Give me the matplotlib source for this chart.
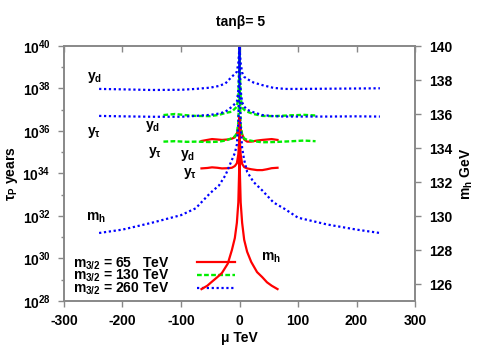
import matplotlib
matplotlib.use("Agg")
import matplotlib.pyplot as plt
import numpy as np

plt.rcParams["font.family"] = ["Liberation Sans", "DejaVu Sans"]
plt.rcParams["font.weight"] = "bold"
plt.rcParams["axes.labelweight"] = "bold"
plt.rcParams["mathtext.fontset"] = "custom"
plt.rcParams["mathtext.rm"] = "Liberation Sans:bold"
plt.rcParams["mathtext.it"] = "Liberation Sans:bold"
plt.rcParams["mathtext.bf"] = "Liberation Sans:bold"
plt.rcParams["mathtext.default"] = "rm"

# ---- data (mu in TeV, log10 tau_P in years, m_h in GeV)
mu_blue = [-240, -200, -150, -100, -75, -50, -35, -24, -13, -8, -4.5, -2, -0.7, 0,
           0.7, 2, 4.5, 8, 13, 24, 39, 58, 78, 100, 150, 200, 240]
blue_yd = [37.98, 37.96, 37.93, 37.94, 37.98, 38.04, 38.12, 38.24, 38.56, 38.68, 38.79, 39.2, 39.7, 40.0,
           39.7, 39.2, 38.75, 38.55, 38.45, 38.28, 38.16, 38.03, 37.98, 37.98, 37.99, 38.0, 38.01]
blue_ytau = [36.71, 36.69, 36.67, 36.67, 36.71, 36.76, 36.82, 36.91, 37.14, 37.28, 37.38, 37.9, 38.8, 40.0,
             38.8, 37.9, 37.35, 37.15, 37.0, 36.88, 36.75, 36.7, 36.68, 36.68, 36.68, 36.69, 36.68]
blue_mh = [129.0, 129.2, 129.6, 130.05, 130.45, 131.35, 131.8, 132.4, 133.3, 133.7, 134.2, 135.5, 137.5, 140.0,
           137.5, 135.3, 134.0, 133.3, 132.6, 132.0, 131.5, 130.8, 130.4, 129.9, 129.5, 129.2, 129.0]

mu_green = [-130, -110, -90, -75, -50, -35, -24, -13, -8, -4.5, -2, -0.7, 0,
            0.7, 2, 4.5, 8, 13, 24, 39, 58, 75, 90, 110, 130]
green_yd = [36.75, 36.8, 36.74, 36.71, 36.7, 36.76, 36.85, 36.91, 37.05, 37.14, 37.6, 38.6, 40.0,
            38.6, 37.6, 37.1, 37.0, 36.91, 36.8, 36.71, 36.7, 36.72, 36.74, 36.76, 36.73]
green_ytau = [35.5, 35.52, 35.49, 35.5, 35.48, 35.5, 35.55, 35.66, 35.75, 35.89, 36.4, 37.5, 40.0,
              37.5, 36.3, 35.8, 35.65, 35.58, 35.52, 35.47, 35.48, 35.5, 35.52, 35.55, 35.52]

mu_red = [-65, -55, -47, -38, -30, -20, -13, -8, -4.5, -2, -0.7, 0,
          0.7, 2, 4.5, 8, 13, 20, 30, 39, 47, 55, 65]
red_yd = [35.53, 35.58, 35.62, 35.6, 35.58, 35.6, 35.64, 35.7, 35.89, 36.1, 36.4, 36.6,
          36.4, 36.1, 35.85, 35.6, 35.5, 35.5, 35.55, 35.58, 35.6, 35.62, 35.58]
red_ytau = [34.24, 34.26, 34.29, 34.27, 34.24, 34.25, 34.27, 34.35, 34.48, 34.9, 35.5, 36.0,
            35.5, 34.9, 34.45, 34.3, 34.24, 34.2, 34.16, 34.16, 34.2, 34.25, 34.27]
red_mh = [125.7, 125.9, 126.14, 126.4, 126.65, 127.2, 128.0, 128.7, 129.6, 130.8, 132.5, 135.8,
          132.5, 130.8, 129.6, 128.6, 127.9, 127.3, 126.7, 126.4, 126.1, 125.9, 125.7]

legend_labels = ["m$_{3/2}$ = 65   TeV", "m$_{3/2}$ = 130 TeV", "m$_{3/2}$ = 260 TeV"]
yl_exps = [28, 30, 32, 34, 36, 38, 40]
mh_ticks = [126, 128, 130, 132, 134, 136, 138, 140]
mu_ticks = [-300, -200, -100, 0, 100, 200, 300]

RED, GREEN, BLUE = "#ff0000", "#00ee00", "#0000ff"
GRAY = "#888888"
red_kw = dict(color=RED, lw=1.6, ls="-")
green_kw = dict(color=GREEN, lw=1.7, ls=(0, (2, 1)))
blue_kw = dict(color=BLUE, lw=1.6, ls=(0, (1, 1.2)))

fig = plt.figure(figsize=(5, 3.5), dpi=100)
ax = fig.add_axes([64 / 500, 1 - 301 / 350, 351 / 500, 255 / 350])
ax2 = ax.twinx()

def p(v):
    return 10 ** np.asarray(v)

h_red, = ax.plot(mu_red, p(red_yd), **red_kw)
ax.plot(mu_red, p(red_ytau), **red_kw)
h_green, = ax.plot(mu_green, p(green_yd), **green_kw)
ax.plot(mu_green, p(green_ytau), **green_kw)
h_blue, = ax.plot(mu_blue, p(blue_yd), **blue_kw)
ax.plot(mu_blue, p(blue_ytau), **blue_kw)

ax2.plot(mu_red, red_mh, **red_kw)
ax2.plot(mu_blue, blue_mh, **blue_kw)

ax.set_xlim(-300, 300)
ax.set_yscale("log")
ax.set_ylim(1e28, 1e40)
ax.set_yticks([10.0 ** e for e in yl_exps])
ax.set_yticklabels([f"10$^{{{e}}}$" for e in yl_exps])
ax.set_yticks([10.0 ** e for e in range(29, 40, 2)], minor=True)
ax.set_yticklabels([], minor=True)
ax.set_xticks(mu_ticks)
ax.set_xticklabels([str(t) for t in mu_ticks])
ax2.set_ylim(125, 140)
ax2.set_yticks(mh_ticks)
ax2.set_yticklabels([str(t) for t in mh_ticks])

for a in (ax, ax2):
    for s in a.spines.values():
        s.set_color(GRAY)
        s.set_linewidth(1.2)
ax.tick_params(axis="both", which="major", direction="out", length=4.5, width=1, color=GRAY,
               labelsize=10, pad=5, labelcolor="black")
ax.tick_params(axis="y", which="minor", direction="out", length=2.5, width=1, color=GRAY)
ax.tick_params(axis="x", which="minor", bottom=False)
ax2.tick_params(axis="y", direction="out", length=4.5, width=1, color=GRAY, labelsize=10, pad=6)
top = ax.secondary_xaxis("top")
top.set_xticks(mu_ticks)
top.tick_params(direction="in", length=4, width=1, color=GRAY, labeltop=False)
top.spines["top"].set_visible(False)

ax.set_xlabel("μ TeV", fontsize=10, va="center")
ax.xaxis.set_label_coords(0.5, -0.145)
ax.set_ylabel("τ$_{\\rm P}$ years", fontsize=10, va="center")
ax.yaxis.set_label_coords(-0.148, 0.5)
ax2.set_ylabel("m$_{\\rm h}$ GeV", fontsize=10, rotation=90, va="center")
ax2.yaxis.set_label_coords(1.148, 0.5)
fig.text(0.482, 1 - 22 / 350, "tanβ= 5", ha="center", va="center", fontsize=10)

# curve labels
tk = dict(fontsize=10, ha="left", va="center")
ax.text(-261, 10 ** 38.54, "y$_{\\rm d}$", **tk)
ax.text(-260, 10 ** 35.95, "y$_τ$", **tk)
ax.text(-161, 10 ** 36.19, "y$_{\\rm d}$", **tk)
ax.text(-157, 10 ** 35.0, "y$_τ$", **tk)
ax.text(-101, 10 ** 34.87, "y$_{\\rm d}$", **tk)
ax.text(-97, 10 ** 34.02, "y$_τ$", **tk)
ax.text(-263, 10 ** 31.9, "m$_{\\rm h}$", **tk)
ax.text(36, 10 ** 30.02, "m$_{\\rm h}$", **tk)

ax.legend([h_red, h_green, h_blue], legend_labels, loc="lower left",
          bbox_to_anchor=(0.014, 0.0), frameon=False, markerfirst=False,
          handlelength=2.7, handletextpad=2.0, labelspacing=-0.27,
          borderaxespad=0.1, borderpad=0.2, prop=dict(size=10, weight="bold"))

fig.savefig("out.png", dpi=100)
